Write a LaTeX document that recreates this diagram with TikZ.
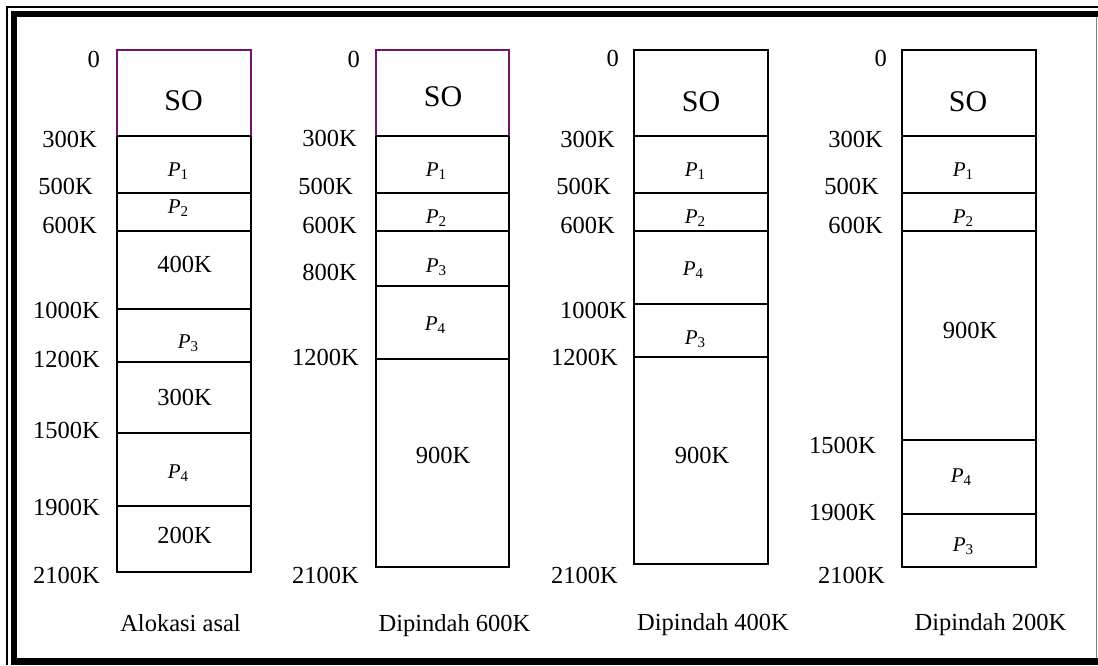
\documentclass[tikz,border=0pt]{standalone}
\usepackage{fontspec}
\setmainfont{Liberation Serif}
\definecolor{sopurple}{RGB}{112,20,112}
\newcommand\Pn[1]{\textit{P}\raisebox{-3pt}{\fontsize{15}{15}\selectfont #1}}
\begin{document}
\begin{tikzpicture}[x=1pt,y=-1pt,
  lbl/.style={anchor=base east,inner sep=0pt,font=\fontsize{24.5}{29}\selectfont},
  txt/.style={anchor=base,inner sep=0pt,font=\fontsize{24.5}{29}\selectfont},
  sotxt/.style={anchor=base,inner sep=0pt,font=\fontsize{30}{34}\selectfont},
  ptxt/.style={anchor=base,inner sep=0pt,font=\fontsize{21}{25}\selectfont},
  side/.style={line width=1.2pt,black},
  soside/.style={line width=1.2pt,sopurple},
  divline/.style={line width=2pt,black}]
\useasboundingbox (0,0) rectangle (1098,665);
% frame
\fill[black] (6,6) rectangle (8,665);
\fill[black] (6,6) rectangle (1098,8);
\fill[black] (10.5,11) rectangle (16.5,665);
\fill[black] (10.5,11) rectangle (1098,16.5);
\fill[black] (10.5,658) rectangle (1098,665);
\draw[gray,line width=1pt] (1096,16.5) -- (1096,658);

% ---------- column 1 ----------
\draw[soside] (117,136) -- (117,50) -- (251,50) -- (251,136);
\draw[side] (117,136) -- (117,572) -- (251,572) -- (251,136);
\foreach \y in {136,193,231,309,362,433,506} \draw[divline] (117,\y) -- (251,\y);
\node[lbl] (a0) at (100,67) {0};
\node[lbl] (a300) at (97,147) {300K};
\node[lbl] (a500) at (93,194) {500K};
\node[lbl] (a600) at (97,233) {600K};
\node[lbl] (a1000) at (100,318) {1000K};
\node[lbl] (a1200) at (100,367) {1200K};
\node[lbl] (a1500) at (100,438) {1500K};
\node[lbl] (a1900) at (100,515) {1900K};
\node[lbl] (a2100) at (100,583) {2100K};
\node[sotxt] (aso) at (183.5,110) {SO};
\node[ptxt] (ap1) at (178,176) {\Pn{1}};
\node[ptxt] (ap2) at (178,213) {\Pn{2}};
\node[txt] (af400) at (184.5,272) {400K};
\node[ptxt] (ap3) at (188,348) {\Pn{3}};
\node[txt] (af300) at (184.5,405) {300K};
\node[ptxt] (ap4) at (178,478) {\Pn{4}};
\node[txt] (af200) at (184.5,543) {200K};
\node[txt] (acap) at (180.5,631) {Alokasi asal};

% ---------- column 2 ----------
\draw[soside] (376,136) -- (376,50) -- (509,50) -- (509,136);
\draw[side] (376,136) -- (376,567) -- (509,567) -- (509,136);
\foreach \y in {136,193,231,286,359} \draw[divline] (376,\y) -- (509,\y);
\node[lbl] (b0) at (360,67) {0};
\node[lbl] (b300) at (357,146) {300K};
\node[lbl] (b500) at (353,194) {500K};
\node[lbl] (b600) at (357,233) {600K};
\node[lbl] (b800) at (357,280) {800K};
\node[lbl] (b1200) at (359,365) {1200K};
\node[lbl] (b2100) at (359,583) {2100K};
\node[sotxt] (bso) at (443,106) {SO};
\node[ptxt] (bp1) at (436,176) {\Pn{1}};
\node[ptxt] (bp2) at (436,223) {\Pn{2}};
\node[ptxt] (bp3) at (436,272) {\Pn{3}};
\node[ptxt] (bp4) at (435,330) {\Pn{4}};
\node[txt] (bf900) at (443,463) {900K};
\node[txt] (bcap) at (454.5,631) {Dipindah 600K};

% ---------- column 3 ----------
\draw[side] (634,50) rectangle (768,564);
\foreach \y in {136,193,231,304,357} \draw[divline] (634,\y) -- (768,\y);
\node[lbl] (c0) at (619,66) {0};
\node[lbl] (c300) at (615,147) {300K};
\node[lbl] (c500) at (611,194) {500K};
\node[lbl] (c600) at (615,233) {600K};
\node[lbl] (c1000) at (627,318) {1000K};
\node[lbl] (c1200) at (618,365) {1200K};
\node[lbl] (c2100) at (618,583) {2100K};
\node[sotxt] (cso) at (701,111) {SO};
\node[ptxt] (cp1) at (695,176) {\Pn{1}};
\node[ptxt] (cp2) at (695,223) {\Pn{2}};
\node[ptxt] (cp4) at (693,275) {\Pn{4}};
\node[ptxt] (cp3) at (695,344) {\Pn{3}};
\node[txt] (cf900) at (702,463) {900K};
\node[txt] (ccap) at (713,630) {Dipindah 400K};

% ---------- column 4 ----------
\draw[side] (902,50) rectangle (1036,567);
\foreach \y in {136,193,231,440,514} \draw[divline] (902,\y) -- (1036,\y);
\node[lbl] (d0) at (887,66) {0};
\node[lbl] (d300) at (883,147) {300K};
\node[lbl] (d500) at (879,194) {500K};
\node[lbl] (d600) at (883,233) {600K};
\node[lbl] (d1500) at (876,453) {1500K};
\node[lbl] (d1900) at (876,520) {1900K};
\node[lbl] (d2100) at (885,583) {2100K};
\node[sotxt] (dso) at (968,111) {SO};
\node[ptxt] (dp1) at (963,176) {\Pn{1}};
\node[ptxt] (dp2) at (963,223) {\Pn{2}};
\node[txt] (df900) at (970,338) {900K};
\node[ptxt] (dp4) at (961,482) {\Pn{4}};
\node[ptxt] (dp3) at (963,551) {\Pn{3}};
\node[txt] (dcap) at (990.5,630) {Dipindah 200K};
\end{tikzpicture}
\end{document}
